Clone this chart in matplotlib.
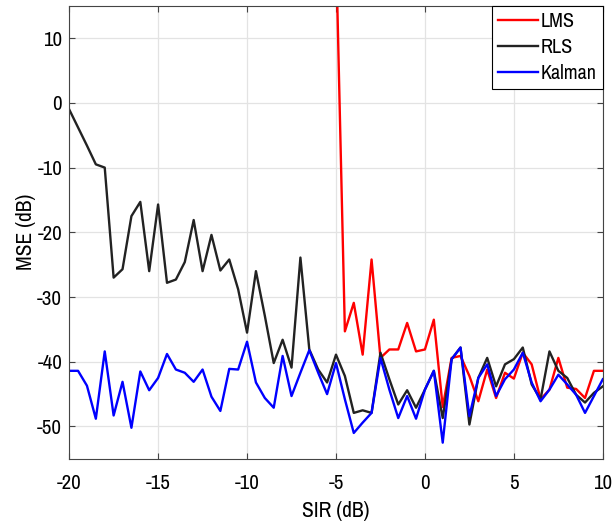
#!/usr/bin/env python3
"""
MSE versus SIR for LMS, RLS and Kalman interference cancellation.
"""

import numpy as np
import matplotlib
matplotlib.use("Agg")
import matplotlib.pyplot as plt
from matplotlib import font_manager

# SIR grid in dB (0.5 dB steps)
sir = np.arange(-20, 10.01, 0.5)

# LMS only shows up on the chart from -5 dB
sir_lms = np.arange(-5, 10.01, 0.5)
mse_lms = [24.0, -35.3, -30.9, -38.9, -24.2, -39.4, -38.1, -38.1, -34.0, -38.4,
           -38.1, -33.5, -47.0, -39.4, -39.1, -42.2, -46.1, -41.2, -45.6, -41.7,
           -42.6, -38.6, -40.4, -45.8, -44.3, -39.4, -44.0, -44.2, -45.6, -41.4,
           -41.4]

mse_rls = [-1.0, -3.8, -6.6, -9.5, -10.0, -27.0, -25.7, -17.5, -15.3, -26.0,
           -15.7, -27.8, -27.3, -24.6, -18.1, -26.0, -20.4, -25.9, -24.2, -28.8,
           -35.5, -26.0, -32.9, -40.2, -36.6, -40.9, -23.9, -38.1, -41.2, -43.2,
           -38.9, -42.2, -47.9, -47.5, -47.9, -38.6, -42.7, -46.6, -44.4, -47.1,
           -44.3, -41.4, -48.7, -39.6, -37.8, -49.7, -42.5, -39.4, -43.8, -40.4,
           -39.6, -37.8, -43.5, -45.8, -38.4, -41.4, -42.5, -45.1, -46.3, -44.8,
           -43.8]

mse_kalman = [-41.4, -41.4, -43.7, -48.8, -38.4, -48.3, -43.1, -50.2, -41.5, -44.4,
              -42.5, -38.8, -41.2, -41.7, -43.1, -41.2, -45.4, -47.6, -41.1, -41.2,
              -36.9, -43.2, -45.6, -47.1, -39.1, -45.3, -41.7, -38.2, -41.7, -45.0,
              -40.2, -45.8, -51.0, -49.4, -47.9, -39.4, -44.3, -48.7, -45.3, -48.8,
              -44.3, -41.4, -52.5, -39.6, -37.8, -48.4, -42.5, -40.4, -45.3, -42.7,
              -41.2, -38.6, -43.2, -46.1, -44.3, -42.0, -43.5, -45.1, -47.9, -45.3,
              -42.7]


def main():
    # prefer a narrow sans if one is installed, like the original figure
    names = sorted({f.name for f in font_manager.fontManager.ttflist})
    narrow = [n for n in names if 'Narrow' in n or 'Condensed' in n]
    plt.rcParams['font.family'] = narrow[:1] + ['Liberation Sans', 'DejaVu Sans']
    plt.rcParams['axes.unicode_minus'] = False
    fs = 15 if narrow else 13.5

    fig = plt.figure(figsize=(6.12, 5.25), dpi=100)
    ax = fig.add_axes([0.113, 0.126, 0.872, 0.863])

    ax.plot(sir_lms, mse_lms, color='#ff0000', lw=1.7, label='LMS')
    ax.plot(sir, mse_rls, color='#222222', lw=1.7, label='RLS')
    ax.plot(sir, mse_kalman, color='#0000ff', lw=1.7, label='Kalman')

    ax.set_xlim(-20, 10)
    ax.set_ylim(-55, 15)
    ax.set_xticks(np.arange(-20, 11, 5))
    ax.set_yticks(np.arange(-50, 11, 10))
    ax.grid(True, color='#e3e3e3', lw=0.9)
    ax.set_axisbelow(True)
    ax.tick_params(direction='in', top=True, right=True, labelsize=fs, length=4,
                   color='#444444', pad=5)
    ax.tick_params(axis='x', pad=11)
    for s in ax.spines.values():
        s.set_color('#444444')
        s.set_linewidth(0.8)

    ax.set_xlabel('SIR (dB)', fontsize=fs + 0.5, labelpad=6)
    ax.set_ylabel('MSE (dB)', fontsize=fs + 0.5, labelpad=1)

    leg = ax.legend(loc='upper right', fontsize=fs - 0.5, fancybox=False, framealpha=1,
                    edgecolor='black', handlelength=2.0, handletextpad=0.12,
                    borderaxespad=0.0, borderpad=0.3, labelspacing=0.35)
    leg.get_frame().set_linewidth(0.8)

    fig.savefig('out.png', dpi=100)


if __name__ == "__main__":
    main()
